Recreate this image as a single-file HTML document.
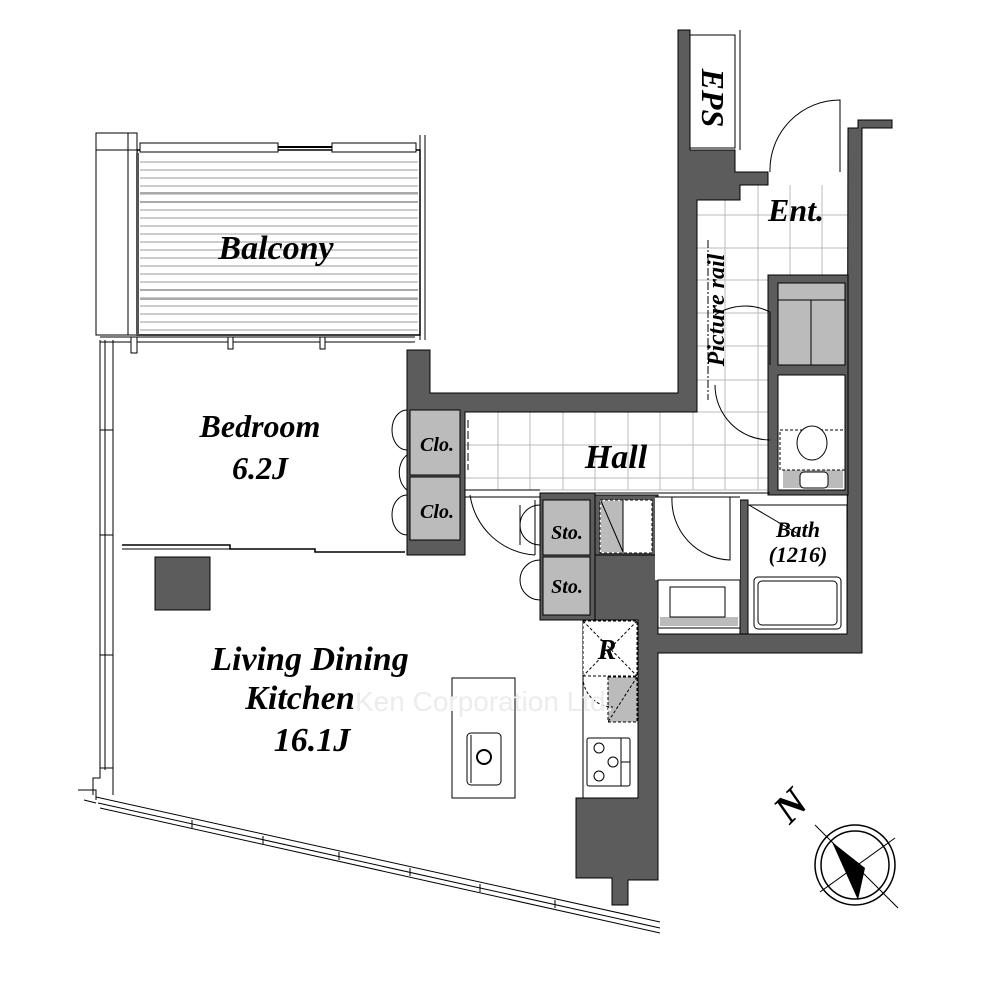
<!DOCTYPE html>
<html><head><meta charset="utf-8"><style>
html,body{margin:0;padding:0;background:#fff;}
svg{display:block;}
.t{font-family:"Liberation Serif",serif;font-weight:bold;font-style:italic;fill:#000;}
</style></head><body>
<svg width="1000" height="1000" viewBox="0 0 1000 1000" xmlns="http://www.w3.org/2000/svg">
<rect width="1000" height="1000" fill="#fff"/>
<g stroke="#bbb" stroke-width="1">
  <path d="M465 412H770V490H465Z" fill="none"/>
  <path d="M498 412V490M530 412V490M563 412V490M595 412V490M628 412V490M660 412V490M693 412V490M725 412V490M758 412V490M465 445H770M465 478H770"/>
  <path d="M697 200V412M725 185V412M758 185V412M790 185V275M822 185V275M697 215H848M697 248H848M697 280H768M697 313H768M697 346H768M697 380H768"/>
</g>
<rect x="137" y="150" width="283" height="185" fill="#fff" stroke="#000" stroke-width="1.5"/>
<g stroke="#999" stroke-width="1">
<path d="M140 162H418M140 170H418M140 178H418M140 186H418M140 194H418M140 202H418M140 210H418M140 218H418M140 226H418M140 234H418M140 242H418M140 250H418M140 258H418M140 266H418M140 274H418M140 282H418M140 290H418M140 298H418M140 306H418M140 314H418M140 322H418M140 330H418"/>
</g>
<path d="M140 193H418M140 202H418M140 290H418M140 299H418" stroke="#aaa" stroke-width="2"/>
<rect x="140" y="143" width="138" height="9" fill="#fff" stroke="#000"/>
<rect x="332" y="143" width="84" height="9" fill="#fff" stroke="#000"/>
<path d="M278 147H332" stroke="#000" stroke-width="2"/>
<rect x="96" y="133" width="37" height="202" fill="#fff" stroke="#000"/>
<rect x="128" y="133" width="9" height="202" fill="#fff" stroke="#000"/>
<rect x="136" y="153" width="3" height="182" fill="#555"/>
<path d="M96 150H137" stroke="#000"/>
<path d="M420 135V340M425 135V340" stroke="#000"/>
<path d="M100 337H415M100 342H415" stroke="#000"/>
<rect x="228" y="337" width="5" height="12" fill="#fff" stroke="#000"/>
<rect x="320" y="337" width="5" height="12" fill="#fff" stroke="#000"/>
<rect x="131" y="337" width="6" height="16" fill="#fff" stroke="#000"/>
<path d="M100 340V770M105 340V770M113 340V770" stroke="#000"/>
<path d="M100 430H113M100 535H113M100 655H113" stroke="#000"/>
<path d="M100 768H113V795M100 770V778H93V795" fill="none" stroke="#000"/>
<path d="M78 790H96V800" fill="none" stroke="#000"/>
<path d="M96 797L660 922M98 803L660 928M100 808L660 933M84 800L96 803" stroke="#000" fill="none"/>
<path d="M192 820v8M263 836v8M339 852v8M410 868v8M480 884v8M555 900v8" stroke="#000"/>
<g fill="#5c5c5c" stroke="#000" stroke-width="1">
<path d="M678 30H690V150H735V172H768V185H740V200H697V412H465V555H407V350H430V393H678Z"/>
<path d="M848 128H858V120H892V128H862V653H658V880H628V905H612V878H576V798H638V620H595V555H658V634H847Z"/>
<path d="M768 275H848V495H768Z"/>
<path d="M540 493H595V620H540Z"/>
<path d="M595 495H658V555H595Z"/>
<path d="M740 500H748V634H740Z"/>
</g>
<rect x="690" y="35" width="45" height="113" fill="#fff" stroke="#000"/>
<path d="M740 30V150" stroke="#000"/>
<rect x="778" y="283" width="67" height="82" fill="#bbb" stroke="#000"/>
<path d="M811 300V365M778 300H845" stroke="#000"/>
<rect x="778" y="375" width="67" height="115" fill="#fff" stroke="#000"/>
<rect x="783" y="470" width="60" height="18" fill="#bbb"/>
<rect x="780" y="430" width="65" height="40" fill="none" stroke="#000" stroke-dasharray="3,2"/>
<ellipse cx="812" cy="443" rx="15" ry="17" fill="#fff" stroke="#000"/>
<rect x="800" y="472" width="28" height="16" rx="4" fill="#fff" stroke="#000"/>
<rect x="410" y="410" width="50" height="65" fill="#bbb" stroke="#000"/>
<rect x="410" y="477" width="50" height="63" fill="#bbb" stroke="#000"/>
<rect x="543" y="500" width="47" height="55" fill="#bbb" stroke="#000"/>
<rect x="543" y="557" width="47" height="58" fill="#bbb" stroke="#000"/>
<rect x="600" y="500" width="52" height="53" fill="#fff" stroke="#000" stroke-dasharray="3,2"/>
<rect x="601" y="501" width="22" height="51" fill="#bbb"/>
<path d="M601 501L623 552M623 500V553" stroke="#000"/>
<rect x="655" y="497" width="85" height="83" fill="#fff"/>
<rect x="658" y="580" width="82" height="48" fill="#fff" stroke="#000"/>
<rect x="660" y="617" width="78" height="9" fill="#bbb"/>
<rect x="670" y="587" width="55" height="30" fill="none" stroke="#000"/>
<rect x="748" y="505" width="99" height="129" fill="#fff" stroke="#000"/>
<rect x="754" y="577" width="87" height="52" rx="4" fill="#fff" stroke="#000"/>
<rect x="758" y="581" width="79" height="44" rx="4" fill="#fff" stroke="#000"/>
<rect x="583" y="620" width="55" height="178" fill="#fff" stroke="#000"/>
<rect x="583" y="621" width="54" height="55" fill="#fff" stroke="#000" stroke-dasharray="3,2"/>
<path d="M583 621L637 676M637 621L583 676" stroke="#000" stroke-dasharray="3,2"/>
<rect x="608" y="677" width="29" height="45" fill="#bbb" stroke="#000" stroke-dasharray="3,2"/>
<path d="M637 677L608 722" stroke="#000" stroke-dasharray="3,2"/>
<path d="M583 677A30 30 0 0 0 613 707" fill="none" stroke="#000" stroke-dasharray="3,2"/>
<rect x="587" y="738" width="43" height="48" rx="2" fill="#fff" stroke="#000"/>
<path d="M621 738V786M621 762H630" stroke="#000"/>
<circle cx="599" cy="748" r="5" fill="none" stroke="#000"/>
<circle cx="613" cy="762" r="5" fill="none" stroke="#000"/>
<circle cx="599" cy="776" r="5" fill="none" stroke="#000"/>
<path d="M465 490H540M595 493H770" stroke="#000" stroke-width="1"/>
<path d="M465 497H540M655 497H740" stroke="#000"/>
<path d="M470 495A70 70 0 0 0 535 555" fill="none" stroke="#000"/>
<path d="M535 500V555" stroke="#000"/>
<path d="M672 497A60 60 0 0 0 730 560V497" fill="none" stroke="#000"/>
<path d="M540 505A20 20 0 0 0 540 545M540 560A20 20 0 0 0 540 600M520 505V545" fill="none" stroke="#000"/>
<path d="M407 410A15 20 0 0 0 407 450M407 455A15 20 0 0 0 407 490M407 495A15 20 0 0 0 407 535" fill="none" stroke="#000"/>
<path d="M715 315A55 55 0 0 1 770 312M715 385A55 55 0 0 0 770 440M770 312V365" fill="none" stroke="#000"/>
<path d="M770 172A70 70 0 0 1 840 100V172" fill="none" stroke="#000"/>
<path d="M708 240V400" stroke="#000" stroke-dasharray="8,2,2,2"/>
<path d="M468 420V470" stroke="#000" stroke-dasharray="8,3"/>
<path d="M749 505L800 535" stroke="#000"/>
<path d="M122 545H230V549H315V552H405" fill="none" stroke="#000" stroke-width="1.5"/>
<path d="M122 549H230" stroke="#000"/>
<rect x="155" y="557" width="55" height="53" fill="#5c5c5c" stroke="#000"/>
<rect x="452" y="678" width="63" height="120" fill="#fff" stroke="#000"/>
<rect x="467" y="733" width="34" height="52" rx="4" fill="#fff" stroke="#000"/>
<circle cx="484" cy="757" r="7" fill="none" stroke="#000" stroke-width="2"/>
<path d="M471 735V783" stroke="#000"/>
<text x="355" y="711" font-family="Liberation Sans, sans-serif" font-size="28" fill="#ececec">Ken Corporation Ltd.</text>
<text class="t" x="276" y="259" font-size="34" text-anchor="middle">Balcony</text>
<text class="t" x="260" y="437" font-size="32" text-anchor="middle">Bedroom</text>
<text class="t" x="260" y="479" font-size="32" text-anchor="middle">6.2J</text>
<text class="t" x="310" y="670" font-size="34" text-anchor="middle">Living Dining</text>
<text class="t" x="300" y="709" font-size="34" text-anchor="middle">Kitchen</text>
<text class="t" x="312" y="751" font-size="34" text-anchor="middle">16.1J</text>
<text class="t" x="616" y="468" font-size="34" text-anchor="middle">Hall</text>
<text class="t" x="796" y="221" font-size="32" text-anchor="middle">Ent.</text>
<text class="t" font-size="32" text-anchor="middle" transform="translate(702,98) rotate(90)">EPS</text>
<text class="t" font-size="24" text-anchor="middle" transform="translate(724,310) rotate(-90)">Picture rail</text>
<text class="t" x="437" y="451" font-size="20" text-anchor="middle">Clo.</text>
<text class="t" x="437" y="518" font-size="20" text-anchor="middle">Clo.</text>
<text class="t" x="567" y="539" font-size="20" text-anchor="middle">Sto.</text>
<text class="t" x="567" y="593" font-size="20" text-anchor="middle">Sto.</text>
<text class="t" x="607" y="659" font-size="28" text-anchor="middle">R</text>
<text class="t" x="798" y="537" font-size="22" text-anchor="middle">Bath</text>
<text class="t" x="798" y="562" font-size="22" text-anchor="middle">(1216)</text>
<text class="t" font-size="40" text-anchor="middle" transform="translate(800,815) rotate(-45)">N</text>
<circle cx="855" cy="865" r="40" fill="#fff" stroke="#000" stroke-width="1.5"/>
<circle cx="855" cy="865" r="34" fill="none" stroke="#000" stroke-width="1.5"/>
<path d="M815 825L898 908" stroke="#000"/>
<path d="M895 838L820 892" stroke="#000"/>
<path d="M832 842L865 868L858 900Z" fill="#000"/>
</svg>
</body></html>
